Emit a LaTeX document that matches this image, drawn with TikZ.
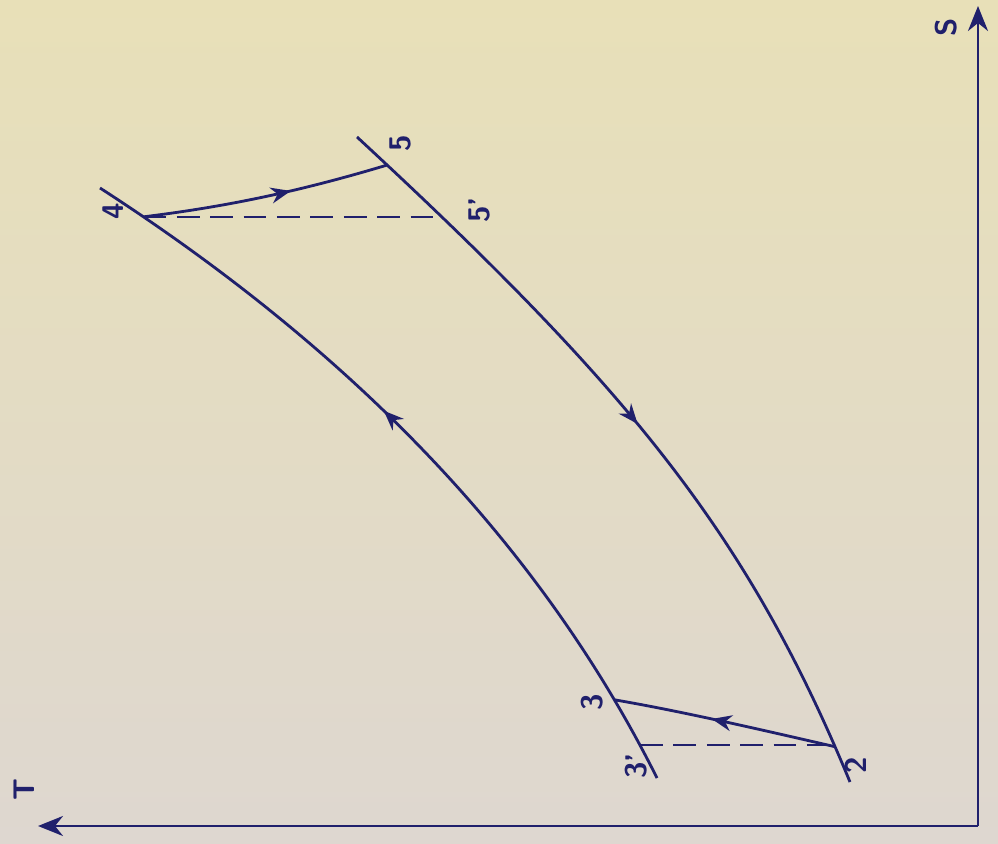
\documentclass[tikz,border=0pt]{standalone}
\usetikzlibrary{arrows.meta, decorations.markings}
\definecolor{ink}{RGB}{32,32,108}
\definecolor{papertop}{RGB}{232,224,184}
\definecolor{paperbot}{RGB}{222,215,208}

\begin{document}
\begin{tikzpicture}[
  x=0.02cm, y=-0.02cm,
  axis/.style={draw=ink, line width=1.6pt, -{Stealth[length=5mm, width=4mm, inset=1.6mm]}},
  curve/.style={draw=ink, line width=1.6pt},
  dash line/.style={draw=ink, line width=1.1pt, dash pattern=on 13pt off 6pt},
  flow/.style={postaction={decorate}, decoration={markings,
    mark=at position #1 with {\arrow{Stealth[length=4mm, width=3.2mm, inset=1.3mm]}}}},
  lbl/.style={text=ink, rotate=90, inner sep=0pt, font=\sffamily\bfseries\fontsize{17}{17}\selectfont},
]
% paper
\fill[top color=papertop, bottom color=paperbot] (0,0) rectangle (998,844);
\useasboundingbox (0,0) rectangle (998,844);

% axes
\coordinate (o) at (978,826);
\coordinate (send) at (978,6);
\coordinate (tend) at (38,826);
\draw[axis] (o) -- (send);
\draw[axis] (o) -- (tend);
\node[lbl] (S) at (946,27) {S};
\node[lbl] (T) at (24,790) {T};

% the two lines (3-4 going up, 5-2 going down)
\coordinate (lbot) at (657,778);
\coordinate (ltop) at (100,188);
\coordinate (rtop) at (357,137);
\coordinate (rbot) at (850,782);
\draw[curve, flow=0.56] (lbot) .. controls (532,528) and (332,338) .. (ltop)
  coordinate[pos=0.044] (p3p) coordinate[pos=0.107] (p3) coordinate[pos=0.937] (p4);
\draw[curve, flow=0.49] (rtop) .. controls (627,387) and (747,532) .. (rbot)
  coordinate[pos=0.038] (p5) coordinate[pos=0.111] (p5p) coordinate[pos=0.952] (p2);

% steps 4-5 and 2-3
\draw[curve, flow=0.6] (p4) .. controls +(90,-11) and +(-80,24) .. (p5);
\draw[curve, flow=0.56] (p2) .. controls +(-70,-16) and +(70,12) .. (p3);
\draw[dash line] (p4) -- (p4 -| p5p);
\draw[dash line] (p3p) -- (p3p -| p2);

% labels
\node[lbl] (n4) at (113,211) {4};
\node[lbl] (n5) at (400,143) {5};
\node[lbl] (n5p) at (479,210) {5'};
\node[lbl] (n3) at (592,702) {3};
\node[lbl] (n3p) at (636,766) {3'};
\node[lbl] (n2) at (856,765) {2};
\end{tikzpicture}
\end{document}
